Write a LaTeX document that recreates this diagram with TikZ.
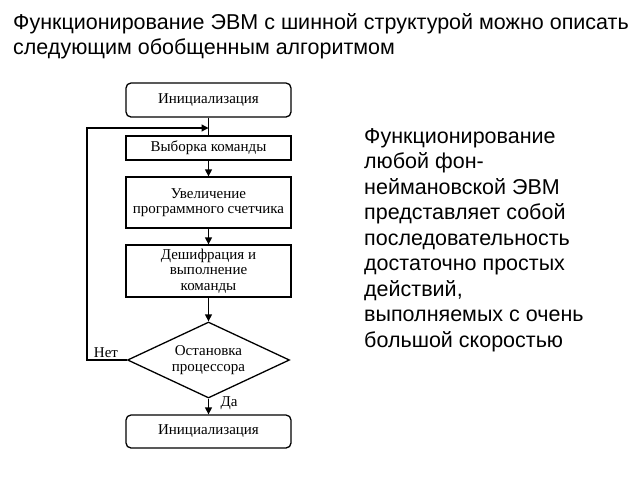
\documentclass[tikz,border=0pt]{standalone}
\usepackage{fontspec}
\setmainfont{Liberation Serif}
\newfontfamily\txtfont{Liberation Sans}
\usetikzlibrary{shapes.geometric,arrows.meta}
\tikzset{
  blk/.style={draw, line width=1.3pt, minimum width=165pt, align=center, inner sep=0pt, font=\fontsize{15}{15.5}\selectfont},
  rblk/.style={blk, rounded corners=5pt},
  dia/.style={draw, diamond, line width=1.3pt, minimum width=162pt, minimum height=76pt, aspect=2.1, inner sep=0pt, align=center, font=\fontsize{15}{16}\selectfont},
  conn/.style={line width=1.3pt, -{Triangle[length=7pt,width=7pt]}},
  plain/.style={line width=1.3pt},
  lbl/.style={font=\fontsize{15}{16}\selectfont, inner sep=0pt},
  body/.style={font=\txtfont\fontsize{21.5}{25.5}\selectfont, align=left, inner sep=0pt, anchor=north west}
}
\begin{document}
\begin{tikzpicture}[x=1pt,y=-1pt]
\useasboundingbox (0,0) rectangle (640,480);
\node[body] (title) at (13,13) {Функционирование ЭВМ с шинной структурой можно описать\\следующим обобщенным алгоритмом};
\node[rblk, minimum height=34pt] (init) at (208.5,100) {Инициализация};
\node[blk, minimum height=24pt] (fetch) at (208.5,148) {Выборка команды};
\node[blk, minimum height=51pt] (inc) at (208.5,202.5) {Увеличение\\программного счетчика};
\node[blk, minimum height=52pt] (dec) at (208.5,271) {Дешифрация и\\выполнение\\команды};
\node[dia] (stop) at (208.5,360) {Остановка\\процессора};
\node[rblk, minimum height=33pt] (fin) at (208.5,431.5) {Инициализация};
\coordinate (j) at (208.5,128);
\coordinate (c1) at (87,360);
\coordinate (c2) at (87,128);
\draw[plain] (init) -- (fetch);
\draw[conn] (stop.west) -- (c1) -- (c2) -- (j);
\draw[conn] (fetch) -- (inc);
\draw[conn] (inc) -- (dec);
\draw[conn] (dec) -- (stop);
\draw[conn] (stop) -- (fin);
\node[lbl] (no) at (106,353) {Нет};
\node[lbl] (yes) at (229,403) {Да};
\node[body] (desc) at (364,128) {Функционирование\\любой фон-\\неймановской ЭВМ\\представляет собой\\последовательность\\достаточно простых\\действий,\\выполняемых с очень\\большой скоростью};
\end{tikzpicture}
\end{document}
